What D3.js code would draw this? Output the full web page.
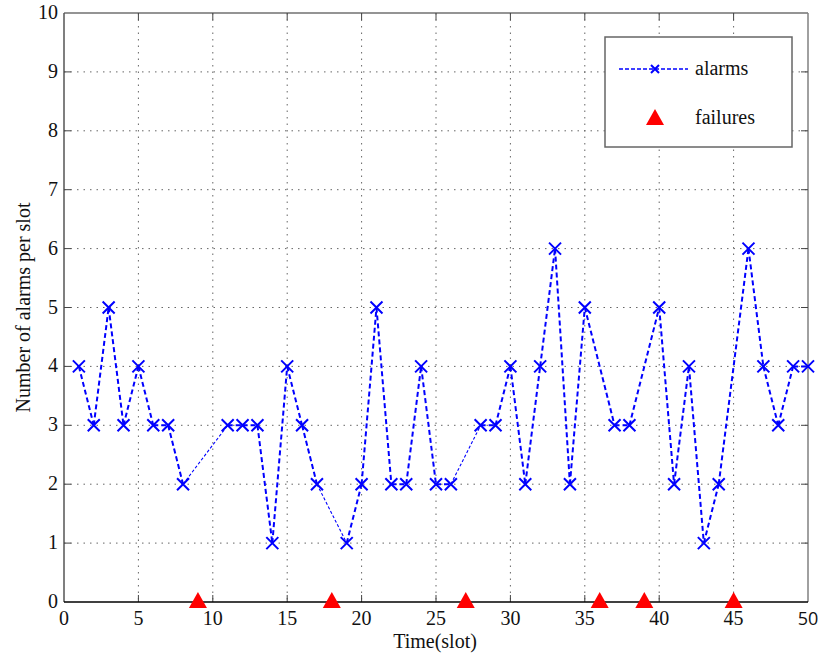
<!DOCTYPE html>
<html>
<head>
<meta charset="utf-8">
<script src="https://cdn.jsdelivr.net/npm/d3@7/dist/d3.min.js"></script>
<style>
  html, body { margin: 0; padding: 0; background: #fff; }
  svg { display: block; }
  text { font-family: "Liberation Serif", "Times New Roman", serif; fill: #111; }
</style>
</head>
<body>
<svg id="chart" width="818" height="657"></svg>
<script>
// ---- data ----
const slots = d3.range(1, 51);
const alarms = [4, 3, 5, 3, 4, 3, 3, 2, null, null,
                3, 3, 3, 1, 4, 3, 2, null, 1, 2,
                5, 2, 2, 4, 2, 2, null, 3, 3, 4,
                2, 4, 6, 2, 5, null, 3, 3, null, 5,
                2, 4, 1, 2, null, 6, 4, 3, 4, 4];
const failureSlots = [9, 18, 27, 36, 39, 45];
const failureValues = [0, 0, 0, 0, 0, 0];
const xTicks = [0, 5, 10, 15, 20, 25, 30, 35, 40, 45, 50];
const yTicks = [0, 1, 2, 3, 4, 5, 6, 7, 8, 9, 10];
const xLabel = "Time(slot)";
const yLabel = "Number of alarms per slot";
const legendLabels = ["alarms", "failures"];

// ---- layout / style ----
const svg = d3.select("#chart");
const L = 64, R = 808, T = 13, B = 602;
const FS = 20;
const x = d3.scaleLinear().domain([0, 50]).range([L, R]);
const y = d3.scaleLinear().domain([0, 10]).range([B, T]);
const blue = "#0000ff", red = "#ff0000";
const thinStarts = new Set([8, 17, 26]); // rendered thinner in the source image

// grid
const grid = svg.append("g");
grid.selectAll(".gx").data(xTicks.slice(1, -1)).enter().append("line")
  .attr("x1", d => x(d)).attr("x2", d => x(d)).attr("y1", T).attr("y2", B)
  .attr("stroke", "#666").attr("stroke-width", 1).attr("stroke-dasharray", "1.5,5");
grid.selectAll(".gy").data(yTicks.slice(1, -1)).enter().append("line")
  .attr("y1", d => y(d)).attr("y2", d => y(d)).attr("x1", L).attr("x2", R)
  .attr("stroke", "#666").attr("stroke-width", 1).attr("stroke-dasharray", "1.5,5");

// axes box
const axisG = svg.append("g");
axisG.append("line").attr("x1", L).attr("x2", R).attr("y1", T).attr("y2", T).attr("stroke", "#707070").attr("stroke-width", 1.5);
axisG.append("line").attr("x1", R).attr("x2", R).attr("y1", T).attr("y2", B).attr("stroke", "#808080").attr("stroke-width", 1.5);
axisG.append("line").attr("x1", L).attr("x2", L).attr("y1", T).attr("y2", B).attr("stroke", "#555").attr("stroke-width", 1.5);

// inward ticks
const tk = 7;
xTicks.slice(1, -1).forEach(d => {
  axisG.append("line").attr("x1", x(d)).attr("x2", x(d)).attr("y1", B).attr("y2", B - tk).attr("stroke", "#444");
  axisG.append("line").attr("x1", x(d)).attr("x2", x(d)).attr("y1", T).attr("y2", T + tk).attr("stroke", "#444");
});
yTicks.slice(1, -1).forEach(d => {
  axisG.append("line").attr("x1", L).attr("x2", L + tk).attr("y1", y(d)).attr("y2", y(d)).attr("stroke", "#444");
  axisG.append("line").attr("x1", R).attr("x2", R - tk).attr("y1", y(d)).attr("y2", y(d)).attr("stroke", "#444");
});

// tick labels
svg.selectAll(".xl").data(xTicks).enter().append("text")
  .attr("x", d => x(d)).attr("y", B + 23)
  .attr("text-anchor", "middle").attr("font-size", FS)
  .style("font-family", d => d === 50 ? "'Open Sans', 'Liberation Sans', sans-serif" : null)
  .style("font-size", d => d === 50 ? "18px" : null)
  .text(d => d);
svg.selectAll(".yl").data(yTicks).enter().append("text")
  .attr("x", L - 6).attr("y", d => y(d) + 6)
  .attr("text-anchor", "end").attr("font-size", FS)
  .text(d => d);

// axis titles
svg.append("text").attr("x", (L + R) / 2 - 1).attr("y", 648)
  .attr("text-anchor", "middle").attr("font-size", FS).text(xLabel);
svg.append("text").attr("transform", `translate(30,${(T + B) / 2}) rotate(-90)`)
  .attr("text-anchor", "middle").attr("font-size", FS).text(yLabel);

// alarms line
const pts = slots.map((s, i) => ({ s, v: alarms[i] })).filter(d => d.v !== null);
const segs = d3.pairs(pts);
svg.append("g").selectAll("line").data(segs).enter().append("line")
  .attr("x1", d => x(d[0].s)).attr("y1", d => y(d[0].v))
  .attr("x2", d => x(d[1].s)).attr("y2", d => y(d[1].v))
  .attr("stroke", blue)
  .attr("stroke-width", d => thinStarts.has(d[0].s) ? 1.1 : 2)
  .attr("stroke-dasharray", d => thinStarts.has(d[0].s) ? "3,2" : "5,3");

// x markers
const m = 6;
const mk = svg.append("g");
pts.forEach(d => {
  const cx = x(d.s), cy = y(d.v);
  mk.append("path")
    .attr("d", `M${cx - m},${cy - m}L${cx + m},${cy + m}M${cx - m},${cy + m}L${cx + m},${cy - m}`)
    .attr("stroke", blue).attr("stroke-width", 2).attr("fill", "none");
});

// bottom axis (black, drawn above lines)
svg.append("line").attr("x1", L).attr("x2", R).attr("y1", B).attr("y2", B).attr("stroke", "#000").attr("stroke-width", 1.5);

// failures triangles
const tri = (cx, cy) => `M${cx},${cy - 10}L${cx + 9},${cy + 6}L${cx - 9},${cy + 6}Z`;
svg.append("g").selectAll("path").data(failureSlots).enter().append("path")
  .attr("d", (d, i) => tri(x(d), y(failureValues[i]))).attr("fill", red);

// legend
const lg = svg.append("g");
lg.append("rect").attr("x", 605).attr("y", 37).attr("width", 187).attr("height", 110)
  .attr("fill", "#fff").attr("stroke", "#666").attr("stroke-width", 1.5);
lg.append("line").attr("x1", 619).attr("x2", 688).attr("y1", 69).attr("y2", 69)
  .attr("stroke", blue).attr("stroke-width", 1.5).attr("stroke-dasharray", "4,2");
lg.append("path").attr("d", `M${655 - 4},${69 - 4}L${655 + 4},${69 + 4}M${655 - 4},${69 + 4}L${655 + 4},${69 - 4}`)
  .attr("stroke", blue).attr("stroke-width", 2);
lg.append("text").attr("x", 695).attr("y", 75).attr("font-size", FS).text(legendLabels[0]);
lg.append("path").attr("d", tri(655, 119)).attr("fill", red);
lg.append("text").attr("x", 695).attr("y", 124).attr("font-size", FS).text(legendLabels[1]);
</script>
</body>
</html>
